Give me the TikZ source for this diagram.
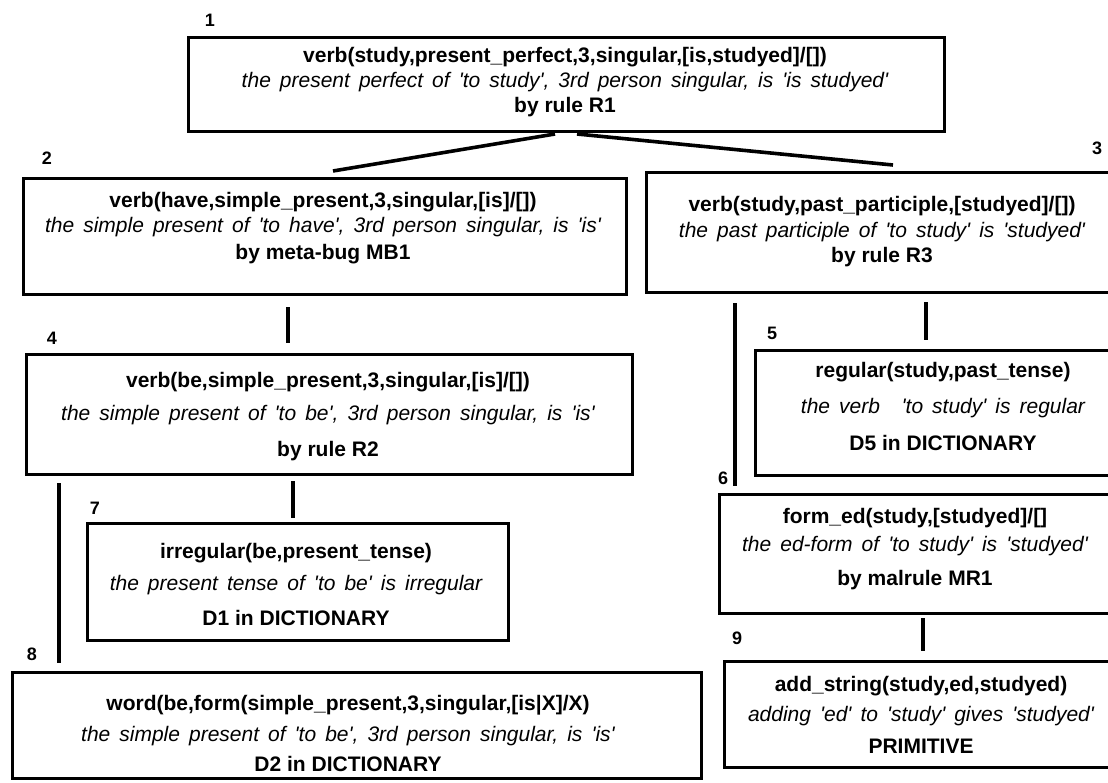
\documentclass[tikz,border=0pt]{standalone}
\usepackage{fontspec}
\setmainfont{Liberation Sans}[Ligatures=TeXOff]
\newcommand{\widesp}{\spaceskip=0.43em plus 0.1em\relax}
\begin{document}
\begin{tikzpicture}[x=1pt,y=-1pt,
  box/.style={draw,line width=2.6pt,rectangle,anchor=north west,inner sep=0pt},
  bl/.style={anchor=base,inner sep=0pt,font=\fontsize{21}{24}\selectfont\bfseries},
  il/.style={anchor=base,inner sep=0pt,font=\fontsize{21}{24}\selectfont\itshape,execute at begin node={\widesp}},
  num/.style={inner sep=0pt,font=\fontsize{18}{20}\selectfont\bfseries},
  conn/.style={line width=3.6pt},
  vconn/.style={line width=3.2pt}]
\useasboundingbox (0,0) rectangle (1108,782);
\clip (0,0) rectangle (1108,782);
% boxes
\node[box,minimum width=756pt,minimum height=94pt] (b1) at (187,36) {};
\node[box,minimum width=603pt,minimum height=116pt] (b2) at (22,177) {};
\node[box,minimum width=475pt,minimum height=120pt] (b3) at (645,171) {};
\node[box,minimum width=606pt,minimum height=120pt] (b4) at (25,353) {};
\node[box,minimum width=380pt,minimum height=125pt] (b5) at (754,349) {};
\node[box,minimum width=400pt,minimum height=119pt] (b6) at (718,493) {};
\node[box,minimum width=421pt,minimum height=117pt] (b7) at (86,522) {};
\node[box,minimum width=689pt,minimum height=106pt] (b8) at (11,671) {};
\node[box,minimum width=400pt,minimum height=106pt] (b9) at (723,660) {};
% numbers
\node[num] (n1) at (210,20) {1};
\node[num] (n2) at (47,158) {2};
\node[num] (n3) at (1097,148) {3};
\node[num] (n4) at (52,338) {4};
\node[num] (n5) at (772,333) {5};
\node[num] (n6) at (723,478) {6};
\node[num] (n7) at (95,508) {7};
\node[num] (n8) at (32,654) {8};
\node[num] (n9) at (737,638) {9};
% texts
\node[bl] (t1a) at (565,62) {verb(study,present\_perfect,3,singular,[is,studyed]/[])};
\node[il] (t1b) at (565,87) {the present perfect of 'to study', 3rd person singular, is 'is studyed'};
\node[bl] (t1c) at (565,112) {by rule R1};
\node[bl] (t2a) at (323,207) {verb(have,simple\_present,3,singular,[is]/[])};
\node[il] (t2b) at (323,232) {the simple present of 'to have', 3rd person singular, is 'is'};
\node[bl] (t2c) at (323,259) {by meta-bug MB1};
\node[bl] (t3a) at (882,211) {verb(study,past\_participle,[studyed]/[])};
\node[il] (t3b) at (882,237) {the past participle of 'to study' is 'studyed'};
\node[bl] (t3c) at (882,262) {by rule R3};
\node[bl] (t4a) at (328,387) {verb(be,simple\_present,3,singular,[is]/[])};
\node[il] (t4b) at (328,420) {the simple present of 'to be', 3rd person singular, is 'is'};
\node[bl] (t4c) at (328,456) {by rule R2};
\node[bl] (t5a) at (943,377) {regular(study,past\_tense)};
\node[il] (t5b) at (943,413) {the verb\hspace{0.6em} 'to study' is regular};
\node[bl] (t5c) at (943,450) {D5 in DICTIONARY};
\node[bl] (t6a) at (915,523) {form\_ed(study,[studyed]/[]};
\node[il] (t6b) at (915,551) {the ed-form of 'to study' is 'studyed'};
\node[bl] (t6c) at (915,585) {by malrule MR1};
\node[bl] (t7a) at (296,558) {irregular(be,present\_tense)};
\node[il] (t7b) at (296,590) {the present tense of 'to be' is irregular};
\node[bl] (t7c) at (296,625) {D1 in DICTIONARY};
\node[bl] (t8a) at (348,710) {word(be,form(simple\_present,3,singular,[is|X]/X)};
\node[il] (t8b) at (348,741) {the simple present of 'to be', 3rd person singular, is 'is'};
\node[bl] (t8c) at (348,771) {D2 in DICTIONARY};
\node[bl] (t9a) at (921,691) {add\_string(study,ed,studyed)};
\node[il] (t9b) at (921,721) {adding 'ed' to 'study' gives 'studyed'};
\node[bl] (t9c) at (921,753) {PRIMITIVE};
% connector end points
\coordinate (c12a) at (555,134); \coordinate (c12b) at (333,171);
\coordinate (c13a) at (577,134); \coordinate (c13b) at (893,165);
\coordinate (c24a) at (288,307); \coordinate (c24b) at (288,343);
\coordinate (c35a) at (926,302); \coordinate (c35b) at (926,340);
\coordinate (c36a) at (735,303); \coordinate (c36b) at (735,486);
\coordinate (c47a) at (293,481); \coordinate (c47b) at (293,518);
\coordinate (c48a) at (59,483);  \coordinate (c48b) at (59,663);
\coordinate (c69a) at (923,618); \coordinate (c69b) at (923,651);
\draw[conn] (c12a) -- (c12b);
\draw[conn] (c13a) -- (c13b);
\draw[vconn] (c24a) -- (c24b);
\draw[vconn] (c35a) -- (c35b);
\draw[vconn] (c36a) -- (c36b);
\draw[vconn] (c47a) -- (c47b);
\draw[vconn] (c48a) -- (c48b);
\draw[vconn] (c69a) -- (c69b);
\end{tikzpicture}
\end{document}
